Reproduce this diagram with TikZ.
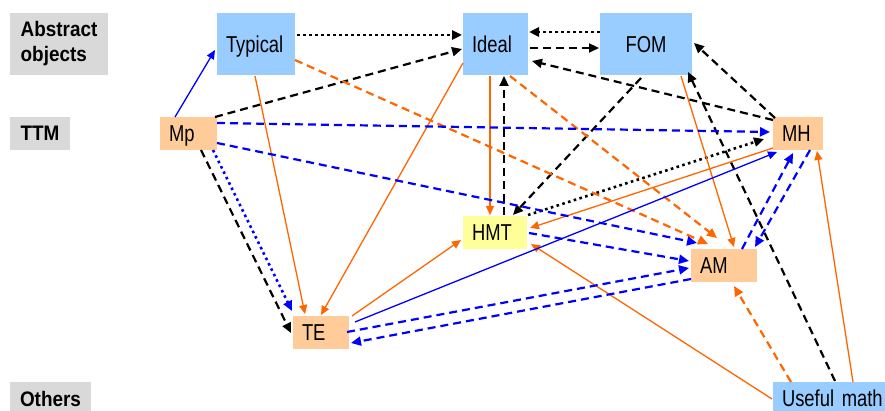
\documentclass[tikz,border=0pt]{standalone}
\usepackage{fontspec}
\usetikzlibrary{arrows.meta}
\newfontfamily\boxfont[FakeStretch=0.8]{Liberation Sans}
\newfontfamily\tagfont[FakeStretch=0.9]{Liberation Sans}
\definecolor{abstractblue}{HTML}{99CCFF}
\definecolor{peach}{HTML}{FFCC99}
\definecolor{paleyellow}{HTML}{FFFF99}
\definecolor{taggray}{HTML}{D9D9D9}
\definecolor{orangeline}{HTML}{FF6600}
\definecolor{blueline}{HTML}{0000FF}
\tikzset{
  conceptbox/.style={rectangle, inner xsep=9pt, inner ysep=0pt,
    text height=16.5pt, text depth=0pt, align=left,
    font=\boxfont\fontsize{23}{27}\selectfont},
  bigbox/.style={conceptbox, minimum height=62pt},
  smallbox/.style={conceptbox, minimum height=33pt},
  rowtag/.style={rectangle, fill=taggray, inner sep=0pt, align=left,
    font=\tagfont\bfseries\fontsize{21}{25}\selectfont},
  thinhead/.style={-{Triangle[length=9pt,width=8pt]}},
  thickhead/.style={-{Triangle[length=10pt,width=9pt]}},
  solidor/.style={draw=orangeline, line width=1.3pt, thinhead},
  solidbl/.style={draw=blueline, line width=1.3pt, thinhead},
  dashor/.style={draw=orangeline, line width=2.2pt, dash pattern=on 8pt off 5pt, thickhead},
  dashbk/.style={draw=black, line width=2.2pt, dash pattern=on 8pt off 5pt, thickhead},
  dashbl/.style={draw=blueline, line width=2.2pt, dash pattern=on 8pt off 5pt, thickhead},
  dotbk/.style={draw=black, line width=2.6pt, dash pattern=on 2.6pt off 3.4pt, thickhead},
  dotbl/.style={draw=blueline, line width=2.6pt, dash pattern=on 2.6pt off 3.4pt, thickhead},
}
\begin{document}
\begin{tikzpicture}[x=1pt,y=1pt]
\useasboundingbox (0,0) rectangle (885,-411);
\fill[white] (0,0) rectangle (885,-411);
\clip (0,0) rectangle (885,-411);

% row tags
\node[rowtag, minimum width=98pt, minimum height=62pt] (tagAbstract) at (59,-44) {Abstract\\objects};
\node[rowtag, minimum width=60pt, minimum height=33pt] (tagTTM) at (40,-133.5) {TTM};
\node[rowtag, minimum width=81pt, minimum height=33pt] (tagOthers) at (50.5,-398.5) {Others};

% abstract objects
\node[bigbox, fill=abstractblue, text width=60pt] (Typical) at (256,-44) {Typical};
\node[bigbox, fill=abstractblue, text width=47pt] (Ideal) at (495.5,-44) {Ideal};
\node[bigbox, fill=abstractblue, text width=74pt, align=center] (FOM) at (646,-44) {FOM};

% TTM level
\node[smallbox, fill=peach, text width=39pt] (Mp) at (188.5,-133.5) {Mp};
\node[smallbox, fill=peach, text width=32pt] (MH) at (798,-133.5) {MH};
\node[smallbox, fill=paleyellow, text width=46pt] (HMT) at (495,-232.5) {HMT};
\node[smallbox, fill=peach, text width=48pt] (AM) at (724,-265.5) {AM};
\node[smallbox, fill=peach, text width=38pt] (TE) at (321,-332.5) {TE};

% others
\node[smallbox, fill=abstractblue, text width=104pt] (UM) at (834,-398.5) {Useful math};

% links between abstract objects
\draw[dotbk]  ([shift={(41,9)}]Typical.center) -- ([shift={(-33.5,9)}]Ideal.center);
\draw[dotbk]  ([shift={(-46,12)}]FOM.center) -- ([shift={(33.5,12)}]Ideal.center);
\draw[dashbk] ([shift={(34.5,-4)}]Ideal.center) -- ([shift={(-47,-4)}]FOM.center);

% black dashed links
\draw[dashbk] ([shift={(26.5,16.5)}]Mp.center) -- ([shift={(-33.5,-5)}]Ideal.center);
\draw[dashbk] ([shift={(-25,13.5)}]MH.center) -- ([shift={(36.5,-17)}]Ideal.center);
\draw[dashbk] ([shift={(-23,15.5)}]MH.center) -- ([shift={(48,1)}]FOM.center);
\draw[dashbk] ([shift={(1,17.5)}]UM.center) -- ([shift={(42,-28)}]FOM.center);
\draw[dashbk] ([shift={(9,17.5)}]HMT.center) -- ([shift={(8.5,-32)}]Ideal.center);
\draw[dashbk] ([shift={(-5,-34)}]FOM.center) -- ([shift={(18,17.5)}]HMT.center);
\draw[dashbk] ([shift={(12.5,-16.5)}]Mp.center) -- ([shift={(-30,-0.5)}]TE.center);
\draw[dotbk]  ([shift={(33,17.5)}]HMT.center) -- ([shift={(-34,-5.5)}]MH.center);

% orange links
\draw[solidor] ([shift={(-1,-32)}]Typical.center) -- ([shift={(-16,18.5)}]TE.center);
\draw[solidor] ([shift={(-32.5,-19)}]Ideal.center) -- ([shift={(0,17.5)}]TE.center);
\draw[solidor] ([shift={(-5.5,-32)}]Ideal.center) -- ([shift={(-5,17.5)}]HMT.center);
\draw[dashor]  ([shift={(39,-16)}]Typical.center) -- ([shift={(-16,21.5)}]AM.center);
\draw[dashor]  ([shift={(14.5,-32)}]Ideal.center) -- ([shift={(-7,27.5)}]AM.center);
\draw[solidor] ([shift={(35,-32)}]FOM.center) -- ([shift={(10,18.5)}]AM.center);
\draw[solidor] ([shift={(-25,-14.5)}]MH.center) -- ([shift={(35,4.5)}]HMT.center);
\draw[solidor] ([shift={(31,16.5)}]TE.center) -- ([shift={(-34,-7.5)}]HMT.center);
\draw[solidor] ([shift={(-62,-0.5)}]UM.center) -- ([shift={(36,-11.5)}]HMT.center);
\draw[dashor]  ([shift={(-43,16.5)}]UM.center) -- ([shift={(10,-20.5)}]AM.center);
\draw[solidor] ([shift={(19,16.5)}]UM.center) -- ([shift={(19,-17.5)}]MH.center);

% blue links
\draw[solidbl] ([shift={(-13.5,16.5)}]Mp.center) -- ([shift={(-41,-6)}]Typical.center);
\draw[dashbl]  ([shift={(28.5,10.5)}]Mp.center) -- ([shift={(-28,1.5)}]MH.center);
\draw[dashbl]  ([shift={(28.5,-9.5)}]Mp.center) -- ([shift={(-27,22.5)}]AM.center);
\draw[dashbl]  ([shift={(34,-0.5)}]HMT.center) -- ([shift={(-35,4.5)}]AM.center);
\draw[dashbl]  ([shift={(26,0.5)}]TE.center) -- ([shift={(-35,-2.5)}]AM.center);
\draw[dashbl]  ([shift={(-33,-13.5)}]AM.center) -- ([shift={(30,-10.5)}]TE.center);
\draw[solidbl] ([shift={(34,10.5)}]TE.center) -- ([shift={(-21,-18.5)}]MH.center);
\draw[dashbl]  ([shift={(18,16.5)}]AM.center) -- ([shift={(-5,-19.5)}]MH.center);
\draw[dashbl]  ([shift={(12,-16.5)}]MH.center) -- ([shift={(31,18.5)}]AM.center);
\draw[dotbl]   ([shift={(24.5,-16.5)}]Mp.center) -- ([shift={(-29,21.5)}]TE.center);
\end{tikzpicture}
\end{document}
